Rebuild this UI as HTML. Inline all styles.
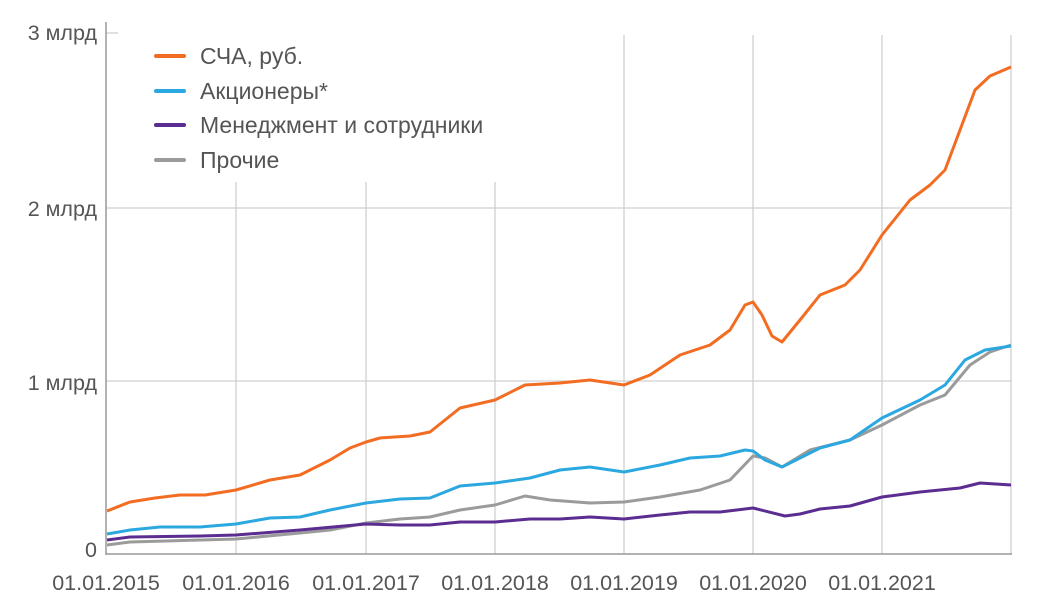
<!DOCTYPE html><html><head><meta charset="utf-8"><style>body{margin:0;background:#fff}svg{display:block}text{font-family:"Liberation Sans",sans-serif;fill:#555}</style></head><body>
<svg width="1041" height="600" viewBox="0 0 1041 600">
<g stroke="#d0d0d0" stroke-width="1.3">
<line x1="106" y1="208" x2="1012" y2="208"/><line x1="106" y1="381" x2="1012" y2="381"/><line x1="106" y1="33" x2="118" y2="33"/>
<line x1="236" y1="182" x2="236" y2="554"/><line x1="366" y1="182" x2="366" y2="554"/><line x1="495" y1="182" x2="495" y2="554"/>
<line x1="624" y1="35" x2="624" y2="554"/><line x1="753" y1="35" x2="753" y2="554"/><line x1="882" y1="35" x2="882" y2="554"/><line x1="1011" y1="35" x2="1011" y2="554"/>
</g>
<g stroke="#999" stroke-width="1.5"><line x1="106" y1="22" x2="106" y2="555"/><line x1="106" y1="554" x2="1012" y2="554"/></g>
<g font-size="21.5" text-anchor="end"><text x="97" y="40">3 млрд</text><text x="97" y="216">2 млрд</text><text x="97" y="390">1 млрд</text><text x="97" y="557">0</text></g>
<g font-size="21.5" text-anchor="middle"><text x="106" y="590">01.01.2015</text><text x="236" y="590">01.01.2016</text><text x="366" y="590">01.01.2017</text><text x="495" y="590">01.01.2018</text><text x="624" y="590">01.01.2019</text><text x="753" y="590">01.01.2020</text><text x="882" y="590">01.01.2021</text></g>
<g fill="none" stroke-width="3" stroke-linejoin="round">
<polyline stroke="#9b9b9b" points="107,545 130,542 236,539 300,533 330,530 366,523 400,519 430,517 460,510 495,505 525,496 550,500 590,503 624,502 660,497 700,490 730,480 753,456 765,458 782,467 810,450 850,440 882,425 920,405 945,395 970,365 990,352 1011,345"/>
<polyline stroke="#5b2d91" points="107,540 130,537 200,536 236,535 300,530 366,524 400,525 430,525 460,522 495,522 530,519 560,519 590,517 624,519 660,515 690,512 720,512 753,508 785,516 800,514 820,509 850,506 882,497 920,492 960,488 980,483 1011,485"/>
<polyline stroke="#2ba8df" points="107,534 130,530 160,527 200,527 236,524 270,518 300,517 330,510 366,503 400,499 430,498 460,486 495,483 530,478 560,470 590,467 624,472 660,465 690,458 720,456 745,450 753,451 765,460 782,467 800,458 820,448 850,440 882,418 920,400 945,385 965,360 985,350 1011,346"/>
<polyline stroke="#f26c22" points="107,511 130,502 155,498 180,495 205,495 236,490 270,480 300,475 330,460 350,448 366,442 380,438 410,436 430,432 460,408 495,400 525,385 560,383 590,380 624,385 650,375 680,355 710,345 730,330 745,305 753,302 762,315 772,336 782,342 800,320 820,295 845,285 860,270 882,235 910,200 930,185 945,170 960,130 975,90 990,76 1011,67"/>
</g>
<g stroke-width="4" stroke-linecap="round"><line x1="156" y1="56" x2="184" y2="56" stroke="#f26c22"/><line x1="156" y1="91" x2="184" y2="91" stroke="#2ba8df"/><line x1="156" y1="125" x2="184" y2="125" stroke="#5b2d91"/><line x1="156" y1="160" x2="184" y2="160" stroke="#9b9b9b"/></g>
<g font-size="23"><text x="200" y="64">СЧА, руб.</text><text x="200" y="99">Акционеры*</text><text x="200" y="133">Менеджмент и сотрудники</text><text x="200" y="168">Прочие</text></g>
</svg></body></html>
